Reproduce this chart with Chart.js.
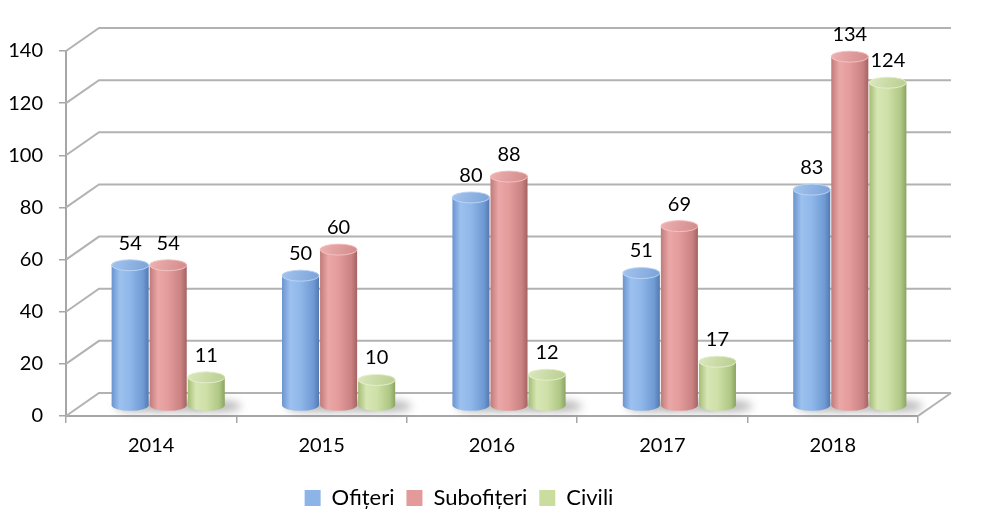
<!DOCTYPE html>
<html>
<head>
<meta charset="utf-8">
<script src="https://cdn.jsdelivr.net/npm/chart.js@4.4.1/dist/chart.umd.min.js"></script>
<style>
  html, body { margin: 0; background: #fff; }
  #wrap { width: 992px; height: 531px; }
</style>
</head>
<body>
<div id="wrap"><canvas id="chart"></canvas></div>
<script>
// ===== DATA =====
const years = ['2014', '2015', '2016', '2017', '2018'];
const ofiteri = [54, 50, 80, 51, 83];
const subofiteri = [54, 60, 88, 69, 134];
const civili = [11, 10, 12, 17, 124];
const seriesNames = ['Ofițeri', 'Subofițeri', 'Civili'];

// ===== 3D LOOK =====
const DEPTH = { dx: 33, dy: -23 };      // back wall offset from the front axis
const BAR_SHIFT = { dx: 17, dy: -10 };  // bars sit half way into the box
const FONT = 'Lato, "Open Sans", sans-serif';

const shades = [
  { // blue
    mid: '#8db4e6',
    body: [[0, '#6a94cf'], [0.22, '#9cc1ef'], [0.5, '#8fb7e9'], [0.85, '#6e99d3'], [1, '#5379b0']],
    top: ['#a3c4ee', '#7ba2d8'],
    rim: 'rgba(190, 214, 245, 0.9)',
  },
  { // red
    mid: '#e39a9a',
    body: [[0, '#c07a7a'], [0.22, '#eba7a7'], [0.5, '#e49b9b'], [0.85, '#c98181'], [1, '#a56262']],
    top: ['#eeb1b1', '#d28a8a'],
    rim: 'rgba(245, 196, 196, 0.9)',
  },
  { // green
    mid: '#cadd9e',
    body: [[0, '#a4bd75'], [0.22, '#d7e6b4'], [0.5, '#cfe0a8'], [0.85, '#afc784'], [1, '#8ca461']],
    top: ['#dbe8bd', '#b9cd90'],
    rim: 'rgba(230, 240, 205, 0.9)',
  },
];

function drawShadow(ctx, bar) {
  const rx = bar.width / 2;
  ctx.save();
  ctx.filter = 'blur(4px)';
  ctx.fillStyle = 'rgba(80, 80, 80, 0.4)';
  ctx.beginPath();
  ctx.ellipse(bar.x + 10, bar.base + 1, rx + 6, 6, 0, 0, Math.PI * 2);
  ctx.fill();
  ctx.restore();
}

function drawCylinder(ctx, bar, shade) {
  const rx = bar.width / 2 - 0.5;
  const ry = 5.5;
  const x = bar.x, top = bar.y, base = bar.base;

  const g = ctx.createLinearGradient(x - rx, 0, x + rx, 0);
  shade.body.forEach(([o, c]) => g.addColorStop(o, c));
  ctx.beginPath();
  ctx.moveTo(x - rx, top);
  ctx.lineTo(x - rx, base);
  ctx.ellipse(x, base, rx, ry, 0, Math.PI, 0, true);
  ctx.lineTo(x + rx, top);
  ctx.ellipse(x, top, rx, ry, 0, 0, Math.PI, true);
  ctx.closePath();
  ctx.fillStyle = g;
  ctx.fill();

  const tg = ctx.createLinearGradient(x - rx, top - ry, x + rx, top + ry);
  tg.addColorStop(0, shade.top[0]);
  tg.addColorStop(1, shade.top[1]);
  ctx.beginPath();
  ctx.ellipse(x, top, rx, ry, 0, 0, Math.PI * 2);
  ctx.fillStyle = tg;
  ctx.fill();
  ctx.strokeStyle = shade.rim;
  ctx.lineWidth = 1;
  ctx.stroke();
}

// back wall + side wall grid lines
const wallPlugin = {
  id: 'wall3d',
  beforeDatasetsDraw(chart) {
    const { ctx, chartArea: { left, right, bottom }, scales: { y } } = chart;
    ctx.save();
    ctx.strokeStyle = '#b2b2b2';
    ctx.lineWidth = 2;
    y.ticks.forEach(t => {
      const py = y.getPixelForValue(t.value);
      ctx.beginPath();
      ctx.moveTo(left, py);
      ctx.lineTo(left + DEPTH.dx, py + DEPTH.dy);
      ctx.lineTo(right + DEPTH.dx, py + DEPTH.dy);
      ctx.stroke();
    });
    ctx.beginPath();
    ctx.moveTo(right, bottom);
    ctx.lineTo(right + DEPTH.dx, bottom + DEPTH.dy);
    ctx.stroke();
    ctx.restore();
  },
};

// cylinders and value labels, drawn from the bar elements the library laid out
const cylinderPlugin = {
  id: 'cylinders',
  beforeDatasetDraw() { return false; },
  afterDatasetsDraw(chart) {
    const ctx = chart.ctx;
    ctx.save();
    ctx.translate(BAR_SHIFT.dx, BAR_SHIFT.dy);
    chart.data.datasets.forEach((ds, di) => {
      chart.getDatasetMeta(di).data.forEach(bar => drawShadow(ctx, bar));
    });
    chart.data.datasets.forEach((ds, di) => {
      chart.getDatasetMeta(di).data.forEach(bar => drawCylinder(ctx, bar, shades[di]));
    });
    ctx.font = `20px ${FONT}`;
    ctx.fillStyle = '#000';
    ctx.textAlign = 'center';
    ctx.textBaseline = 'middle';
    chart.data.datasets.forEach((ds, di) => {
      chart.getDatasetMeta(di).data.forEach((bar, i) => {
        ctx.fillText(String(ds.data[i]), bar.x, bar.y - 22);
      });
    });
    ctx.restore();
  },
};

new Chart(document.getElementById('chart').getContext('2d'), {
  type: 'bar',
  data: {
    labels: years,
    datasets: [ofiteri, subofiteri, civili].map((data, i) => ({
      label: seriesNames[i],
      data,
      backgroundColor: shades[i].mid,
      borderWidth: 0,
      categoryPercentage: 0.67,
      barPercentage: 1.0,
    })),
  },
  options: {
    responsive: true,
    maintainAspectRatio: false,
    animation: false,
    layout: { padding: { top: 51, right: 74, left: 0, bottom: 12 } },
    plugins: {
      legend: {
        position: 'bottom',
        labels: {
          color: '#000',
          font: { family: FONT, size: 22 },
          boxWidth: 16,
          boxHeight: 16,
          padding: 12,
        },
      },
      tooltip: { enabled: false },
    },
    scales: {
      x: {
        offset: true,
        afterFit(scale) { scale.height = 59; },
        grid: { drawOnChartArea: false, tickLength: 7, color: '#a6a6a6', lineWidth: 1.5 },
        border: { color: '#a6a6a6', width: 2 },
        ticks: { color: '#000', font: { family: FONT, size: 20 }, padding: 11 },
      },
      y: {
        min: 0,
        max: 140,
        afterFit(scale) { scale.width = 66; },
        grid: { drawOnChartArea: false, tickLength: 7, color: '#a6a6a6', lineWidth: 1.5 },
        border: { color: '#a6a6a6', width: 2 },
        ticks: { stepSize: 20, color: '#000', font: { family: FONT, size: 20 }, padding: 16 },
      },
    },
  },
  plugins: [wallPlugin, cylinderPlugin],
});
</script>
</body>
</html>
